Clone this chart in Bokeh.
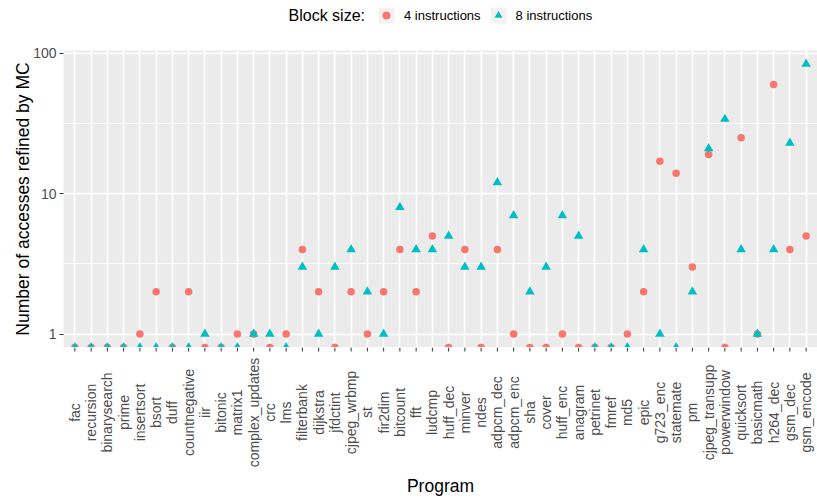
import math
from bokeh.plotting import figure
from bokeh.layouts import column
from bokeh.models import (FactorRange, Range1d, FixedTicker, NumeralTickFormatter,
                          Legend, LegendItem, Label)
from bokeh.core.properties import value
from bokeh.embed import file_html
from bokeh.resources import INLINE

# ---------------- data ----------------
programs = ["fac", "recursion", "binarysearch", "prime", "insertsort", "bsort", "duff",
            "countnegative", "iir", "bitonic", "matrix1", "complex_updates", "crc", "lms",
            "filterbank", "dijkstra", "jfdctint", "cjpeg_wrbmp", "st", "fir2dim", "bitcount",
            "fft", "ludcmp", "huff_dec", "minver", "ndes", "adpcm_dec", "adpcm_enc", "sha",
            "cover", "huff_enc", "anagram", "petrinet", "fmref", "md5", "epic", "g723_enc",
            "statemate", "pm", "cjpeg_transupp", "powerwindow", "quicksort", "basicmath",
            "h264_dec", "gsm_dec", "gsm_encode"]

four_instr = [0, 0, 0, 0, 1, 2, 0,
              2, 0, 0, 1, 1, 0, 1,
              4, 2, 0, 2, 1, 2, 4,
              2, 5, 0, 4, 0, 4, 1, 0,
              0, 1, 0, 0, 0, 1, 2, 17,
              14, 3, 19, 0, 25, 1,
              60, 4, 5]

eight_instr = [0, 0, 0, 0, 0, 0, 0,
               0, 1, 0, 0, 1, 1, 0,
               3, 1, 3, 4, 2, 1, 8,
               4, 4, 5, 3, 3, 12, 7, 2,
               3, 7, 5, 0, 0, 0, 4, 1,
               0, 2, 21, 34, 4, 1,
               4, 23, 84]

y_ticks = [1, 10, 100]
series_labels = ["4 instructions", "8 instructions"]
legend_title = "Block size:"
x_title = "Program"
y_title = "Number of accesses refined by MC"

# ---------------- scales ----------------
positive = [v for v in four_instr + eight_instr if v > 0]
lo, hi = math.log10(min(positive)), math.log10(max(positive))
pad = 0.05 * (hi - lo)
y_lo, y_hi = 10 ** (lo - pad), 10 ** (hi + pad)
minor_grid = [10 ** (math.log10(t) + 0.5) for t in y_ticks[:-1]]


def on_axis(vals):
    # zero counts cannot be shown on a log scale: they sit on the lower panel edge
    return [v if v > 0 else y_lo for v in vals]


FONT = "Liberation Sans"
RED, CYAN = "#F8766D", "#00BFC4"
KEY_BG = "#F2F2F2"
W = 817
LEFT = 63
LEG_H, MAIN_H, LAB_H = 30, 317, 152

# ---------------- legend strip ----------------
leg = figure(width=W, height=LEG_H, x_range=Range1d(0, 1), y_range=Range1d(0, 1),
             x_axis_location=None, y_axis_location=None,
             min_border_left=LEFT, min_border_right=0, min_border_top=0,
             min_border_bottom=0, output_backend="svg", toolbar_location=None)
leg.outline_line_color = None
leg.grid.visible = False
leg.background_fill_color = "white"
leg.border_fill_color = "white"

# key glyphs: one sample each, kept outside the strip's ranges so only the legend shows them
bg1 = leg.rect(x=[-1], y=[-1], width=1, height=1, fill_color=KEY_BG, line_color=None)
k4 = leg.scatter(x=[-1], y=[-1], marker="circle", fill_color=RED, line_color=None)
bg2 = leg.rect(x=[-1], y=[-1], width=1, height=1, fill_color=KEY_BG, line_color=None)
k8 = leg.scatter(x=[-1], y=[-1], marker="triangle", fill_color=CYAN, line_color=None)

legend = Legend(items=[LegendItem(label=series_labels[0], renderers=[bg1, k4]),
                       LegendItem(label=series_labels[1], renderers=[bg2, k8])],
                orientation="horizontal", location=(313, 5),
                glyph_width=20, glyph_height=20, label_standoff=8, spacing=7,
                padding=0, margin=0, border_line_color=None,
                background_fill_alpha=0,
                label_text_font=FONT, label_text_font_size="13px",
                label_text_color="black")
leg.add_layout(legend)
leg.add_layout(Label(x=225, y=15, x_units="screen", y_units="screen", text=legend_title,
                     text_font=FONT, text_font_size="16px", text_color="black",
                     text_baseline="middle", text_align="left"))

# ---------------- main panel ----------------
p = figure(width=W, height=MAIN_H,
           x_range=FactorRange(factors=programs, range_padding=0.2,
                               range_padding_units="absolute"),
           y_range=Range1d(y_lo, y_hi), y_axis_type="log",
           output_backend="svg", toolbar_location=None,
           min_border_left=LEFT, min_border_right=0, min_border_top=20,
           min_border_bottom=0)
p.background_fill_color = "#EBEBEB"
p.border_fill_color = "white"
p.outline_line_color = None

ticker = FixedTicker(ticks=y_ticks, minor_ticks=minor_grid)
p.yaxis.ticker = ticker
p.ygrid.ticker = ticker
p.ygrid.grid_line_color = "white"
p.ygrid.grid_line_width = 1.6
p.ygrid.minor_grid_line_color = "white"
p.ygrid.minor_grid_line_width = 0.8
p.xgrid.grid_line_color = "white"
p.xgrid.grid_line_width = 1.6

yax = p.yaxis[0]
yax.axis_line_color = None
yax.major_tick_line_color = "#333333"
yax.major_tick_line_width = 1
yax.major_tick_out = 4
yax.major_tick_in = 0
yax.minor_tick_line_color = None
yax.major_label_text_font = FONT
yax.major_label_text_font_size = "14px"
yax.major_label_text_color = "#4D4D4D"
yax.axis_label_text_font = FONT
yax.axis_label_text_font_size = "17.5px"
yax.axis_label_text_font_style = "normal"
yax.axis_label_text_color = "black"
yax.formatter = NumeralTickFormatter(format="0")
yax.major_label_standoff = 3
yax.axis_label = y_title
yax.axis_label_standoff = -3

# the x axis itself is drawn in the strip below (ticks + centred category names)
p.xaxis.visible = False

p.scatter(programs, on_axis(four_instr), marker="circle", size=7.5,
          fill_color=RED, line_color=None)
p.scatter(programs, on_axis(eight_instr), marker="triangle", size=9.5,
          fill_color=CYAN, line_color=None)

# ---------------- category axis strip ----------------
lab = figure(width=W, height=LAB_H, x_range=p.x_range, y_range=Range1d(0, LAB_H),
             x_axis_location=None, y_axis_location=None,
             min_border_left=LEFT, min_border_right=0, min_border_top=0,
             min_border_bottom=0, output_backend="svg", toolbar_location=None)
lab.outline_line_color = None
lab.grid.visible = False
lab.background_fill_color = "white"
lab.border_fill_color = "white"

n = len(programs)
lab.segment(x0=programs, y0=[LAB_H] * n, x1=programs, y1=[LAB_H - 4] * n,
            line_color="#333333", line_width=1)
lab.text(x=programs, y=[LAB_H - 65] * n, text=programs, angle=math.pi / 2,
         text_align="center", text_baseline="middle", text_font=value(FONT),
         text_font_size="14px", text_color="#4D4D4D")
lab.add_layout(Label(x=(W - LEFT) / 2, y=14, x_units="screen", y_units="screen",
                     text=x_title, text_font=FONT, text_font_size="17.5px",
                     text_color="black", text_align="center", text_baseline="middle"))

layout = column(leg, p, lab, spacing=0)
open("out.html", "w").write(file_html(layout, INLINE))
